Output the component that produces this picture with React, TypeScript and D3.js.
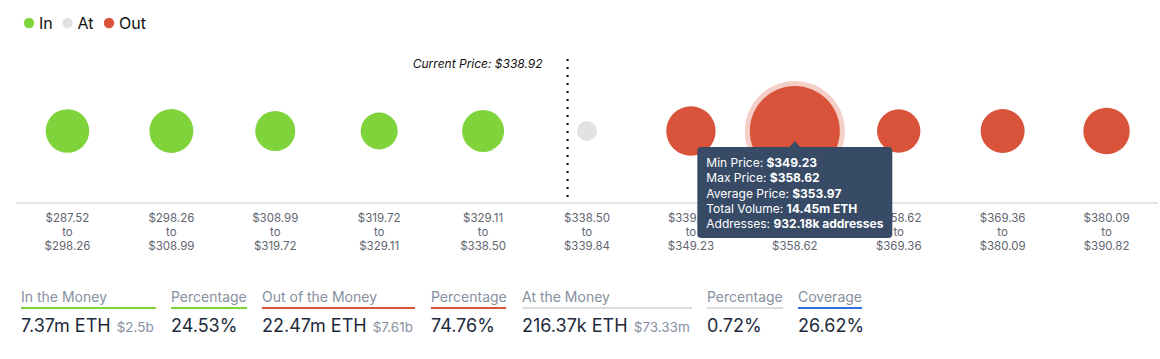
import React, { useEffect, useRef } from "react";
import * as d3 from "d3";

const priceLow = [287.52, 298.26, 308.99, 319.72, 329.11, 338.5, 339.84, 349.23, 358.62, 369.36, 380.09];
const priceHigh = [298.26, 308.99, 319.72, 329.11, 338.5, 339.84, 349.23, 358.62, 369.36, 380.09, 390.82];
const bucketStatus = ["In", "In", "In", "In", "In", "At", "Out", "Out", "Out", "Out", "Out"];
const bucketAddresses = [218.8, 222.8, 184.1, 157.5, 203.0, 46.0, 280.8, 932.18, 216.8, 222.8, 248.1];
const currentPrice = 338.92;

const legendKeys = ["In", "At", "Out"];
const statusColors: Record<string, string> = { In: "#80d43b", At: "#e2e2e2", Out: "#d9533a" };

const hoverIndex = 7;
const tooltipLabels = ["Min Price: ", "Max Price: ", "Average Price: ", "Total Volume: ", "Addresses: "];
const tooltipValues = ["$349.23", "$358.62", "$353.97", "14.45m ETH", "932.18k addresses"];

const statLabels = ["In the Money", "Percentage", "Out of the Money", "Percentage", "At the Money", "Percentage", "Coverage"];
const statValues = ["7.37m ETH", "24.53%", "22.47m ETH", "74.76%", "216.37k ETH", "0.72%", "26.62%"];
const statUsd = ["$2.5b", "", "$7.61b", "", "$73.33m", "", ""];
const statColors = ["#80d43b", "#80d43b", "#d9533a", "#d9533a", "#dcdcdc", "#dcdcdc", "#2f6fdf"];

const fmt = (v: number) => "$" + v.toFixed(2);

export default function App() {
  const ref = useRef<SVGSVGElement>(null);

  useEffect(() => {
    const W = 1160, H = 359;
    const font = "Inter, 'Noto Sans', sans-serif";
    const svg = d3.select(ref.current).attr("width", W).attr("height", H);
    svg.selectAll("*").remove();

    const n = priceLow.length;
    const x = d3.scaleBand<number>().domain(d3.range(n)).range([15.5, 1158.5]);
    const r = d3.scaleSqrt().domain([0, d3.max(bucketAddresses) as number]).range([0, 45]);
    const cy = 131;
    const axisY = 203;

    // legend
    const legend = svg.append("g").attr("transform", "translate(29, 23)");
    const lx = [0, 38.5, 80];
    legendKeys.forEach((k, i) => {
      legend.append("circle").attr("cx", lx[i]).attr("cy", 0).attr("r", 5.2).attr("fill", statusColors[k]);
      legend.append("text").attr("x", lx[i] + 10).attr("y", 5.8)
        .attr("font-family", font).attr("font-size", 16).attr("fill", "#111").text(k);
    });

    // axis line
    svg.append("line").attr("x1", 16).attr("x2", 1158).attr("y1", axisY).attr("y2", axisY)
      .attr("stroke", "#d6dde6").attr("stroke-width", 1.5);

    // current price marker
    const ci = priceLow.findIndex((lo, i) => currentPrice >= lo && currentPrice <= priceHigh[i]);
    const cx = (x(ci) as number) + x.bandwidth() * (currentPrice - priceLow[ci]) / (priceHigh[ci] - priceLow[ci]);
    svg.append("line").attr("x1", cx).attr("x2", cx).attr("y1", 59).attr("y2", axisY)
      .attr("stroke", "#000").attr("stroke-width", 2).attr("stroke-dasharray", "2,6");
    svg.append("text").attr("x", cx - 25).attr("y", 68).attr("text-anchor", "end")
      .attr("font-family", font).attr("font-size", 12).attr("font-style", "italic").attr("fill", "#111")
      .text("Current Price: " + fmt(currentPrice));

    // bubbles
    const g = svg.append("g");
    g.append("circle")
      .attr("cx", (x(hoverIndex) as number) + x.bandwidth() / 2).attr("cy", cy)
      .attr("r", r(bucketAddresses[hoverIndex]) + 5)
      .attr("fill", statusColors[bucketStatus[hoverIndex]]).attr("opacity", 0.28);
    g.selectAll("circle.bubble").data(bucketAddresses).join("circle")
      .attr("class", "bubble")
      .attr("cx", (d, i) => (x(i) as number) + x.bandwidth() / 2)
      .attr("cy", cy)
      .attr("r", d => r(d))
      .attr("fill", (d, i) => statusColors[bucketStatus[i]]);

    // tick labels
    const ticks = svg.append("g").attr("font-family", font).attr("font-size", 11.5)
      .attr("fill", "#5f6670").attr("text-anchor", "middle");
    priceLow.forEach((lo, i) => {
      const tx = (x(i) as number) + x.bandwidth() / 2;
      ticks.append("text").attr("x", tx).attr("y", 222).text(fmt(lo));
      ticks.append("text").attr("x", tx).attr("y", 236).text("to");
      ticks.append("text").attr("x", tx).attr("y", 250).text(fmt(priceHigh[i]));
    });

    // tooltip
    const hx = (x(hoverIndex) as number) + x.bandwidth() / 2;
    const tw = 195, th = 91, ty = 147;
    const tip = svg.append("g");
    tip.append("path")
      .attr("d", `M${hx - 6},${ty + 1} L${hx},${ty - 6} L${hx + 6},${ty + 1} Z`)
      .attr("fill", "#384b66");
    tip.append("rect").attr("x", hx - tw / 2).attr("y", ty).attr("width", tw).attr("height", th)
      .attr("rx", 4).attr("fill", "#384b66");
    tooltipLabels.forEach((lab, i) => {
      const t = tip.append("text").attr("x", hx - tw / 2 + 9).attr("y", ty + 20 + i * 15.3)
        .attr("font-family", font).attr("font-size", 12).attr("fill", "#fff");
      t.append("tspan").text(lab);
      t.append("tspan").attr("font-weight", 700).text(tooltipValues[i]);
    });

    // stats row
    const cols = [[21, 156], [171, 247], [262, 415], [431, 506], [522, 692], [707, 783], [798, 862]];
    statLabels.forEach((lab, i) => {
      const [x0, x1] = cols[i];
      svg.append("text").attr("x", x0).attr("y", 302).attr("font-family", font)
        .attr("font-size", 14).attr("fill", "#8590a0").text(lab);
      svg.append("line").attr("x1", x0).attr("x2", x1).attr("y1", 308).attr("y2", 308)
        .attr("stroke", statColors[i]).attr("stroke-width", 2);
      const vt = svg.append("text").attr("x", x0).attr("y", 332).attr("font-family", font)
        .attr("font-size", 18).attr("fill", "#1d2a3b");
      vt.append("tspan").text(statValues[i]);
      if (statUsd[i]) {
        vt.append("tspan").attr("dx", 6).attr("font-size", 13.5).attr("fill", "#8590a0").text(statUsd[i]);
      }
    });
  }, []);

  return <svg ref={ref} style={{ position: "absolute", left: 0, top: 0, background: "#fff" }} />;
}
